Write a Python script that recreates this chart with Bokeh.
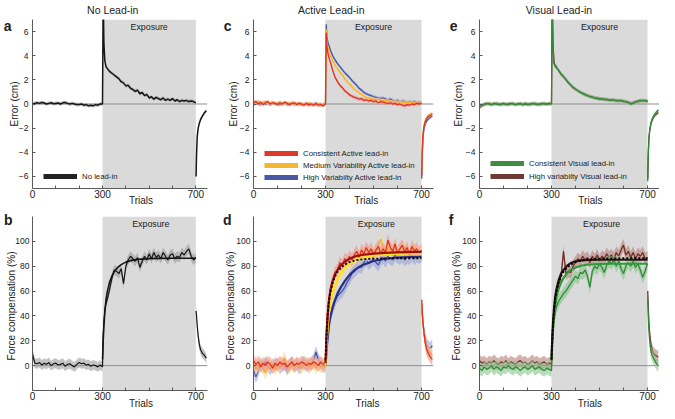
import numpy as np
from bokeh.plotting import figure
from bokeh.layouts import gridplot
from bokeh.models import (Range1d, FixedTicker, Label, Span, BoxAnnotation, Legend, LegendItem,
                          LinearAxis)
from bokeh.embed import file_html
from bokeh.resources import INLINE

# ---------------- data ----------------
TRIALS_PRE = list(range(0, 301, 10))
TRIALS_EXP = [303, 306, 310, 315] + list(range(320, 701, 10))
TRIALS_POST = [701, 703, 706, 710, 715, 720, 728, 736, 745]
TRIALS_FIT = [300, 303, 306, 310, 315, 320, 330, 340, 350, 365, 380, 400, 425, 450, 500, 550, 600, 650, 700]
EXPOSURE = (300, 700)
X_TICKS = [0, 100, 200, 300, 400, 500, 600, 700]
X_TICK_LABELS = {0: "0", 300: "300", 700: "700"}
ERR_TICKS = [-6, -4, -2, 0, 2, 4, 6]
FC_TICKS = [0, 20, 40, 60, 80, 100]

# panel a: error, no lead-in
a_pre = [0.0, 0.05, 0.1, 0.05, 0.12, 0.08, 0.0, 0.05, 0.1, 0.02, 0.05, 0.08, 0.0, 0.1, 0.12, 0.05, 0.0, 0.05, 0.0, -0.05,
         -0.05, 0.0, -0.1, -0.05, -0.15, -0.1, -0.15, -0.05, -0.1, 0.0, 0.0]
a_exp = [9.0, 5.0, 3.6, 3.1, 2.95, 2.7, 2.55, 2.4, 2.25, 2.1, 1.85, 1.75, 1.5, 1.55, 1.3, 1.2, 1.05, 1.15, 0.85, 0.95,
         0.7, 0.8, 0.5, 0.6, 0.4, 0.55, 0.45, 0.35, 0.5, 0.3, 0.4, 0.3, 0.45, 0.25, 0.35, 0.2, 0.3, 0.25, 0.3, 0.2,
         0.25, 0.2, 0.1]
a_post = [-6.0, -4.2, -2.7, -2.0, -1.6, -1.3, -1.0, -0.75, -0.55]

# panel c: error, active lead-in
c_red_pre = [0.1, 0.2, 0.0, 0.15, -0.05, 0.1, 0.2, 0.0, 0.1, 0.05, -0.05, 0.1, 0.0, 0.15, 0.05, -0.05, 0.05, 0.1, -0.05, 0.05,
             0.0, -0.1, 0.05, -0.05, 0.0, -0.1, 0.05, -0.1, -0.05, -0.15, 0.0]
c_yel_pre = [0.2, 0.1, 0.25, 0.05, 0.15, 0.2, 0.05, 0.1, 0.15, 0.0, 0.1, 0.15, 0.05, 0.0, 0.1, 0.05, 0.1, 0.0, 0.05, -0.05,
             0.05, 0.0, -0.05, 0.1, -0.05, 0.0, -0.1, 0.05, -0.1, 0.0, -0.05]
c_blu_pre = [-0.1, 0.15, 0.05, -0.05, 0.1, 0.0, 0.05, -0.05, 0.1, 0.0, 0.05, -0.05, 0.0, 0.1, -0.05, 0.0, 0.05, -0.05, 0.0, 0.05,
             -0.05, 0.0, 0.05, -0.1, 0.0, -0.05, 0.05, -0.05, 0.0, -0.1, 0.05]
c_red_exp = [5.9, 4.8, 4.2, 3.8, 3.5, 2.8, 2.2, 1.85, 1.55, 1.35, 1.1, 0.95, 0.75, 0.65, 0.55, 0.5, 0.4, 0.45, 0.3, 0.35,
             0.25, 0.3, 0.2, 0.25, 0.1, 0.2, 0.15, 0.1, 0.05, 0.1, 0.0, 0.05, -0.05, 0.0, -0.1, -0.15, -0.05, -0.1, 0.0, -0.05,
             0.05, 0.0, 0.05]
c_yel_exp = [6.2, 5.2, 4.7, 4.3, 4.0, 3.6, 3.2, 2.9, 2.65, 2.4, 2.1, 1.85, 1.65, 1.45, 1.2, 1.1, 0.9, 0.8, 0.65, 0.55,
             0.5, 0.45, 0.4, 0.35, 0.4, 0.3, 0.3, 0.25, 0.3, 0.2, 0.2, 0.25, 0.15, 0.2, 0.15, 0.1, 0.2, 0.1, 0.15, 0.05,
             0.1, 0.05, 0.1]
c_blu_exp = [6.6, 5.6, 5.1, 4.8, 4.5, 4.0, 3.65, 3.35, 3.1, 2.85, 2.6, 2.4, 2.2, 1.95, 1.75, 1.55, 1.3, 1.15, 0.95, 0.85,
             0.75, 0.7, 0.6, 0.55, 0.5, 0.45, 0.5, 0.4, 0.35, 0.4, 0.3, 0.25, 0.3, 0.2, 0.25, 0.2, 0.15, 0.2, 0.15, 0.2,
             0.1, 0.15, 0.1]
c_red_post = [-5.9, -4.0, -2.6, -1.9, -1.5, -1.25, -1.05, -0.95, -0.85]
c_yel_post = [-5.7, -3.8, -2.5, -1.8, -1.4, -1.15, -0.95, -0.85, -0.75]
c_blu_post = [-6.2, -4.3, -2.9, -2.1, -1.7, -1.45, -1.25, -1.1, -1.0]

# panel e: error, visual lead-in
e_grn_pre = [-0.2, -0.1, 0.0, 0.05, 0.0, -0.05, 0.05, 0.0, -0.05, 0.0, 0.05, -0.05, 0.0, 0.05, 0.0, -0.05, 0.0, 0.05, -0.05, 0.0,
             -0.05, 0.0, 0.05, 0.0, -0.05, 0.0, 0.05, 0.0, 0.0, 0.05, 0.0]
e_brn_pre = [-0.3, -0.15, -0.05, 0.0, 0.05, -0.05, 0.0, 0.05, 0.0, -0.05, 0.0, 0.0, -0.05, 0.0, 0.05, -0.05, 0.0, 0.0, -0.05, 0.05,
             0.0, -0.05, 0.0, 0.05, 0.0, -0.05, 0.0, 0.05, 0.0, 0.0, 0.05]
e_grn_exp = [9.0, 5.0, 3.4, 3.1, 3.0, 2.8, 2.5, 2.3, 2.0, 1.75, 1.6, 1.4, 1.2, 1.1, 0.95, 0.9, 0.8, 0.7, 0.6, 0.6,
             0.5, 0.45, 0.4, 0.45, 0.35, 0.4, 0.35, 0.3, 0.35, 0.25, 0.3, 0.25, 0.2, 0.2, 0.1, 0.0, 0.05, 0.15, 0.25, 0.3,
             0.25, 0.3, 0.2]
e_brn_exp = [9.0, 5.2, 3.5, 3.2, 3.1, 2.75, 2.45, 2.25, 2.05, 1.8, 1.55, 1.35, 1.25, 1.1, 1.0, 0.85, 0.75, 0.7, 0.65, 0.55,
             0.5, 0.5, 0.45, 0.4, 0.4, 0.35, 0.3, 0.35, 0.3, 0.3, 0.25, 0.3, 0.25, 0.2, 0.15, 0.05, 0.1, 0.2, 0.2, 0.25,
             0.3, 0.25, 0.25]
e_grn_post = [-6.4, -4.3, -2.8, -2.0, -1.5, -1.2, -0.9, -0.7, -0.5]
e_brn_post = [-6.2, -4.2, -2.8, -2.1, -1.6, -1.3, -1.0, -0.85, -0.7]

# panel b: force compensation, no lead-in
b_pre = [9.5, 2.0, 1.5, 2.5, 0.5, 2.0, 1.0, 2.5, 0.0, 1.5, 2.0, 0.5, 1.0, 2.0, -0.5, 1.0, 1.5, 0.0, -1.0, 1.0,
         2.5, 1.5, 2.0, 0.5, 1.0, -0.5, 0.5, 0.0, -1.0, 0.5, -1.0]
b_exp = [25, 35, 45, 50, 53, 61, 70, 77, 76, 74, 78, 66, 80, 85, 88, 86, 84, 87, 79, 84,
         88, 85, 90, 86, 91, 87, 89, 86, 91, 88, 85, 89, 90, 86, 88, 87, 91, 89, 92, 94,
         88, 85, 87]
b_post = [44, 40, 32, 24, 17, 13, 10, 8.5, 6]
fit_b = [5, 20, 32, 43, 53, 59, 67, 72, 75.5, 79, 81.3, 83.3, 84.7, 85.5, 86.1, 86.3, 86.4, 86.4, 86.4]

# panel d: force compensation, active lead-in
d_red_pre = [4, 1, 3, -1, 2, 0, 3, 1, -2, 2, 0, 3, 1, 2, -1, 1, 3, 0, 2, 1, 3, 2, 0, 2, 1, 3, 2, 0, 3, 1, 2]
d_yel_pre = [2, -3, 0, 3, -2, -6, -1, 2, 0, -3, 1, -1, 3, 6, 0, -2, 1, -1, 2, 0, -2, 1, 3, -1, 0, 2, -2, 1, -1, 0, -1]
d_blu_pre = [-3, -9, -4, 2, -2, 3, 0, -3, 1, -1, 2, -2, 0, 1, -3, 0, 2, -1, 1, -2, 0, 3, 1, -1, 2, 4, 11, 5, 1, -1, 0]
d_red_exp = [25, 38, 48, 55, 62, 69, 75, 77, 83, 80, 86, 84, 88, 85, 89, 92, 87, 93, 90, 95,
             91, 94, 89, 93, 96, 90, 94, 91, 101, 95, 92, 98, 90, 94, 97, 91, 95, 89, 96, 92,
             94, 90, 93]
d_yel_exp = [18, 28, 36, 43, 50, 58, 64, 69, 74, 77, 79, 82, 84, 83, 87, 89, 86, 90, 91, 88,
             92, 90, 93, 89, 96, 102, 94, 91, 95, 89, 93, 96, 90, 94, 91, 95, 89, 93, 91, 94,
             90, 92, 91]
d_blu_exp = [10, 18, 26, 34, 40, 46, 52, 56, 58, 60, 63, 67, 70, 74, 76, 78, 80, 79, 83, 85,
             82, 84, 86, 83, 81, 85, 87, 84, 88, 86, 85, 89, 87, 86, 88, 85, 87, 86, 89, 86,
             88, 87, 88]
d_red_post = [53, 45, 35, 27, 19, 14, 10, 7, 5]
d_yel_post = [50, 43, 34, 26, 19, 15, 12, 10, 8]
d_blu_post = [48, 42, 34, 28, 22, 18, 15, 14, 16]
fit_d_red = [2, 18, 30, 42, 53, 60, 68, 73.5, 77, 81, 83.5, 86, 88, 89, 90.2, 90.8, 91.2, 91.4, 91.5]
fit_d_yel = [0, 12, 22, 33, 43, 50, 59, 65, 70, 75, 78.5, 82, 85, 86.8, 88.6, 89.5, 90, 90.3, 90.5]
fit_d_blu = [0, 8, 16, 24, 33, 39, 47, 53, 58, 63.5, 68, 73, 77.5, 80.5, 84.2, 86, 87, 87.4, 87.6]

# panel f: force compensation, visual lead-in
f_brn_pre = [4, 2, 3, 1, 3, 2, 4, 2, 1, 3, 2, 4, 1, 3, 2, 1, 3, 4, 2, 3, 1, 2, 4, 2, 3, 1, 2, 3, 1, 2, 1]
f_grn_pre = [-2, -4, -1, -3, -2, 0, -3, -1, -2, -4, -1, -2, 0, -2, -3, -1, -2, -4, -2, -1, -3, -2, 0, -3, -2, -1, -3, -4, -2, -3, -4]
f_brn_exp = [20, 32, 45, 52, 58, 66, 72, 92, 74, 76, 75, 80, 83, 86, 84, 88, 85, 87, 83, 88,
             85, 89, 84, 88, 86, 90, 87, 89, 86, 91, 88, 93, 97, 89, 92, 87, 91, 86, 90, 88,
             91, 86, 87]
f_grn_exp = [15, 25, 35, 42, 47, 52, 55, 58, 60, 63, 66, 69, 72, 70, 75, 74, 77, 72, 63, 76,
             80, 78, 82, 79, 75, 81, 84, 82, 85, 80, 84, 78, 74, 80, 83, 80, 84, 79, 82, 77,
             71, 76, 82]
f_brn_post = [60, 48, 34, 24, 16, 12, 9, 8, 7]
f_grn_post = [55, 42, 28, 18, 11, 8, 5, 2, 0]
fit_f_brn = [5, 22, 34, 45, 55, 61, 69, 74, 77, 80.5, 82.5, 84, 84.7, 85, 85.2, 85.2, 85.2, 85.2, 85.2]
fit_f_grn = [4, 18, 29, 39, 48, 54, 62, 67, 70.5, 74.5, 77, 79, 80.5, 81.2, 81.8, 82, 82, 82, 82]

# ---------------- style ----------------
FONT = "Liberation Sans"
TXT = "#222222"
AXC = "#5a5a5a"
BLK, BLK_B = "#151515", "#9c9c9c"
RED, RED_B, RED_F = "#e2321f", "#f2928a", "#9b1010"
YEL, YEL_B, YEL_F = "#f6b21a", "#fbd88a", "#ffe21a"
BLU, BLU_B, BLU_F = "#4654a8", "#9aa3da", "#262f80"
GRN, GRN_B, GRN_F = "#2f8a36", "#86c48a", "#2f9a3a"
BRN, BRN_B, BRN_F = "#6e2e28", "#b8817a", "#2a1512"


def make_fig(w, h, left, right, top, bottom, yr, yticks, ystand):
    p = figure(width=w, height=h, x_range=Range1d(0, 750), y_range=Range1d(*yr),
               output_backend="svg", toolbar_location=None,
               min_border_left=left, min_border_right=right,
               min_border_top=top, min_border_bottom=bottom)
    p.outline_line_color = None
    p.grid.visible = False
    p.background_fill_color = "white"
    p.xaxis.ticker = FixedTicker(ticks=X_TICKS, minor_ticks=[])
    p.xaxis.major_label_overrides = {t: X_TICK_LABELS.get(t, "") for t in X_TICKS}
    p.yaxis.ticker = FixedTicker(ticks=yticks, minor_ticks=[])
    for ax in (p.xaxis[0], p.yaxis[0]):
        ax.axis_line_color = AXC
        ax.major_tick_line_color = AXC
        ax.major_tick_in = 3
        ax.major_tick_out = 0
        ax.minor_tick_line_color = None
        ax.major_label_text_font = FONT
        ax.major_label_text_color = TXT
    p.xaxis.major_label_text_font_size = "10px"
    p.xaxis.major_label_standoff = 1
    p.yaxis.major_label_text_font_size = "8.5px"
    p.yaxis.major_label_standoff = ystand
    p.add_layout(BoxAnnotation(left=EXPOSURE[0], right=EXPOSURE[1], fill_color="#dadada",
                               fill_alpha=1.0, line_alpha=0, level="underlay"))
    p.add_layout(Span(location=0, dimension="width", line_color="#8f8f8f", line_width=1,
                      level="underlay"))
    return p


def text_axis(p, side, value, text, size, standoff, bold=False, vertical=False):
    ax = LinearAxis(ticker=FixedTicker(ticks=[value], minor_ticks=[]),
                    major_label_overrides={value: text})
    ax.axis_line_color = None
    ax.major_tick_line_color = None
    ax.minor_tick_line_color = None
    ax.major_tick_in = 0
    ax.major_tick_out = 0
    ax.major_label_standoff = standoff
    ax.major_label_text_font = FONT
    ax.major_label_text_font_size = size
    ax.major_label_text_color = TXT
    if bold:
        ax.major_label_text_font_style = "bold"
    if vertical:
        ax.major_label_orientation = "vertical"
    p.add_layout(ax, side)


def series(p, pre, exp, post, se, color, band, width=1.3):
    y = np.array(pre + exp, dtype=float)
    x = TRIALS_PRE + TRIALS_EXP
    p.varea(x=x, y1=y - se, y2=y + se, fill_color=band, fill_alpha=0.6)
    p.line(x, y, line_color=color, line_width=width)
    yp = np.array(post, dtype=float)
    p.varea(x=TRIALS_POST, y1=yp - se, y2=yp + se, fill_color=band, fill_alpha=0.6)
    p.line(TRIALS_POST, yp, line_color=color, line_width=width)


def fit(p, vals, color, width=2.0, dash="solid"):
    p.line(TRIALS_FIT, vals, line_color=color, line_width=width, line_dash=dash)


def inner_txt(p, x, y, s, size):
    p.add_layout(Label(x=x, y=y, text=s, text_font=FONT, text_font_size=size,
                       text_align="center", text_baseline="middle", text_color=TXT))


def legend(p, entries, loc, spacing):
    items = []
    for lab, col in entries:
        r = p.line(x=[np.nan], y=[np.nan], line_color=col, line_width=5)
        items.append(LegendItem(label=lab, renderers=[r]))
    lg = Legend(items=items, location=loc, glyph_width=34, glyph_height=10, label_height=10,
                spacing=spacing, padding=0, margin=0, border_line_color=None,
                background_fill_alpha=0, label_text_font=FONT, label_text_font_size="7.8px",
                label_standoff=5, label_text_color=TXT)
    p.add_layout(lg)


def decorate(p, title, title_x, letter, letter_y, letter_st, ylabel, ylabel_y, ylabel_st,
             trials_x, trials_st):
    if title:
        text_axis(p, "above", title_x, title, "10.5px", 4)
    text_axis(p, "below", trials_x, "Trials", "10px", trials_st)
    text_axis(p, "left", ylabel_y, ylabel, "10px", ylabel_st, vertical=True)
    text_axis(p, "left", letter_y, letter, "14px", letter_st, bold=True)


ERR = (-7, 7)
FC = (-20, 120)
W = [219, 220, 220]
LB = [27, 34, 40]
RB = [12, 6, 0]
H1, H2 = 208, 203

# ---- a ----
pa = make_fig(W[0], H1, LB[0], RB[0], 15, 19, ERR, ERR_TICKS, 4)
series(pa, a_pre, a_exp, a_post, 0.15, BLK, BLK_B, 1.5)
legend(pa, [("No lead-in", "#222222")], (11, 7), 2)
inner_txt(pa, 500, 6.35, "Exposure", "8.8px")
decorate(pa, "No Lead-in", 344, "a", 6.45, -6, "Error (cm)", 0, -4, 465, -6)

# ---- c ----
pc = make_fig(W[1], H1, LB[1], RB[1], 15, 19, ERR, ERR_TICKS, 4)
series(pc, c_blu_pre, c_blu_exp, c_blu_post, 0.15, BLU, BLU_B)
series(pc, c_yel_pre, c_yel_exp, c_yel_post, 0.15, YEL, YEL_B)
series(pc, c_red_pre, c_red_exp, c_red_post, 0.15, RED, RED_B)
legend(pc, [("Consistent Active lead-in", "#e0392b"),
            ("Medium Variability Active lead-in", "#f4b731"),
            ("High Variabilty Active lead-in", "#4a58a8")], (11, 6), 2)
inner_txt(pc, 500, 6.35, "Exposure", "8.8px")
decorate(pc, "Active Lead-in", 324, "c", 6.45, -7, "Error (cm)", 0, -2, 470, -6)

# ---- e ----
pe = make_fig(W[2], H1, LB[2], RB[2], 15, 19, ERR, ERR_TICKS, 4)
series(pe, e_brn_pre, e_brn_exp, e_brn_post, 0.15, BRN, BRN_B)
series(pe, e_grn_pre, e_grn_exp, e_grn_post, 0.15, GRN, GRN_B)
legend(pe, [("Consistent Visual lead-in", "#3f8c42"),
            ("High variabilty Visual lead-in", "#6e3a35")], (11, 7), 3)
inner_txt(pe, 500, 6.35, "Exposure", "8.8px")
decorate(pe, "Visual Lead-in", 331, "e", 6.45, -8, "Error (cm)", 0, -1, 462, -6)

# ---- b ----
pb = make_fig(W[0], H2, LB[0], RB[0], 8, 21, FC, FC_TICKS, 3)
series(pb, b_pre, b_exp, b_post, 4.0, BLK, BLK_B, 1.2)
fit(pb, fit_b, BLK, 1.6)
inner_txt(pb, 507, 114, "Exposure", "8.8px")
decorate(pb, None, 0, "b", 117.5, -9, "Force compensation (%)", 48, -5, 465, -5)

# ---- d ----
pd_ = make_fig(W[1], H2, LB[1], RB[1], 8, 21, FC, FC_TICKS, 3)
series(pd_, d_blu_pre, d_blu_exp, d_blu_post, 5.0, BLU, BLU_B)
series(pd_, d_yel_pre, d_yel_exp, d_yel_post, 5.0, YEL, YEL_B)
series(pd_, d_red_pre, d_red_exp, d_red_post, 5.0, RED, RED_B)
fit(pd_, fit_d_blu, BLU_F, 2.2)
fit(pd_, fit_d_yel, YEL_F, 2.2)
fit(pd_, fit_d_red, RED_F, 2.2)
fit(pd_, fit_b, "#000000", 1.8, "2 2")
inner_txt(pd_, 512, 114, "Exposure", "8.8px")
decorate(pd_, None, 0, "d", 117, -9, "Force compensation (%)", 48, -3, 475, -5)

# ---- f ----
pf = make_fig(W[2], H2, LB[2], RB[2], 8, 21, FC, FC_TICKS, 3)
series(pf, f_brn_pre, f_brn_exp, f_brn_post, 5.0, BRN, BRN_B)
series(pf, f_grn_pre, f_grn_exp, f_grn_post, 5.0, GRN, GRN_B)
fit(pf, fit_f_grn, GRN_F, 2.2)
fit(pf, fit_f_brn, BRN_F, 2.2)
fit(pf, fit_b, "#000000", 1.8, "2 2")
inner_txt(pf, 509, 114, "Exposure", "8.8px")
decorate(pf, None, 0, "f", 117, -5, "Force compensation (%)", 48, -3, 460, -5)

grid = gridplot([[pa, pc, pe], [pb, pd_, pf]], toolbar_location=None)
open("out.html", "w").write(file_html(grid, INLINE))
